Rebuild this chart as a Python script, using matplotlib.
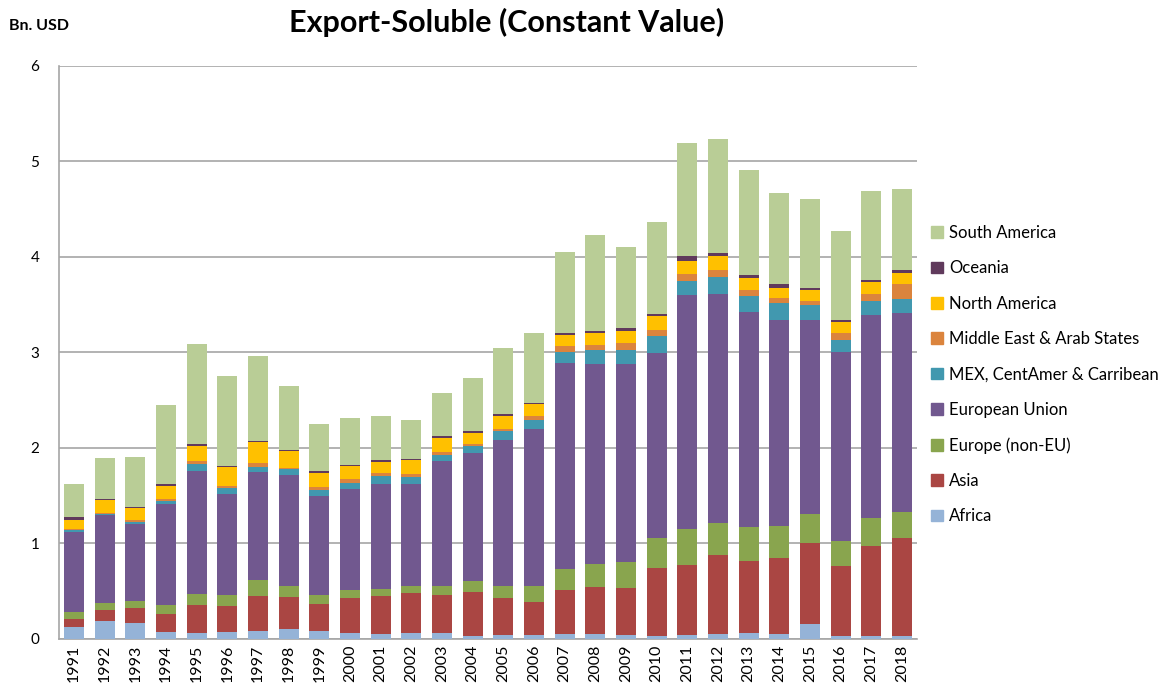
import numpy as np
import matplotlib
matplotlib.use("Agg")
import matplotlib.pyplot as plt
from matplotlib.patches import Patch

plt.rcParams['font.family'] = ['Lato', 'DejaVu Sans']

years = [str(y) for y in range(1991, 2019)]

africa = [0.126, 0.19, 0.168, 0.07, 0.06, 0.07, 0.084, 0.10, 0.08, 0.06, 0.05, 0.06, 0.06, 0.028,
          0.039, 0.039, 0.049, 0.049, 0.039, 0.028, 0.039, 0.049, 0.06, 0.049, 0.157, 0.028, 0.028, 0.028]
asia = [0.08, 0.11, 0.157, 0.196, 0.296, 0.276, 0.366, 0.337, 0.286, 0.373, 0.40, 0.418, 0.401, 0.461,
        0.391, 0.353, 0.461, 0.50, 0.499, 0.715, 0.733, 0.835, 0.754, 0.803, 0.852, 0.736, 0.946, 1.03]
europe_non_eu = [0.081, 0.074, 0.07, 0.087, 0.115, 0.119, 0.168, 0.115, 0.095, 0.077, 0.07, 0.081, 0.091, 0.115,
                 0.129, 0.167, 0.22, 0.233, 0.265, 0.315, 0.384, 0.327, 0.359, 0.331, 0.30, 0.266, 0.29, 0.276]
eu = [0.833, 0.926, 0.805, 1.057, 1.292, 1.053, 1.128, 1.165, 1.036, 1.058, 1.107, 1.068, 1.309, 1.344,
      1.525, 1.634, 2.157, 2.094, 2.073, 1.934, 2.443, 2.402, 2.251, 2.154, 2.028, 1.972, 2.129, 2.08]
mex = [0.02, 0.01, 0.025, 0.032, 0.073, 0.06, 0.052, 0.067, 0.063, 0.066, 0.077, 0.066, 0.066, 0.07,
       0.088, 0.097, 0.122, 0.147, 0.147, 0.181, 0.146, 0.174, 0.168, 0.185, 0.157, 0.129, 0.15, 0.146]
middle_east = [0.01, 0.01, 0.018, 0.021, 0.025, 0.024, 0.042, 0.006, 0.029, 0.038, 0.031, 0.032, 0.028, 0.028,
               0.027, 0.042, 0.056, 0.052, 0.077, 0.063, 0.074, 0.077, 0.066, 0.049, 0.049, 0.073, 0.07, 0.151]
north_america = [0.10, 0.13, 0.126, 0.143, 0.157, 0.193, 0.217, 0.179, 0.153, 0.14, 0.122, 0.146, 0.15, 0.115,
                 0.133, 0.126, 0.115, 0.123, 0.129, 0.14, 0.143, 0.14, 0.119, 0.108, 0.108, 0.115, 0.125, 0.122]
oceania = [0.024, 0.02, 0.011, 0.021, 0.021, 0.017, 0.02, 0.01, 0.014, 0.004, 0.021, 0.018, 0.018, 0.017,
           0.024, 0.017, 0.02, 0.031, 0.028, 0.027, 0.048, 0.035, 0.028, 0.032, 0.028, 0.018, 0.018, 0.031]
south_america = [0.343, 0.42, 0.52, 0.82, 1.054, 0.939, 0.89, 0.674, 0.494, 0.495, 0.454, 0.401, 0.45, 0.552,
                 0.688, 0.723, 0.846, 0.995, 0.848, 0.957, 1.177, 1.194, 1.105, 0.956, 0.928, 0.929, 0.929, 0.842]

series = [
    ("Africa", africa, "#95B3D7"),
    ("Asia", asia, "#AA4643"),
    ("Europe (non-EU)", europe_non_eu, "#89A54E"),
    ("European Union", eu, "#71588F"),
    ("MEX, CentAmer & Carribean", mex, "#4198AF"),
    ("Middle East & Arab States", middle_east, "#DB843D"),
    ("North America", north_america, "#FFC000"),
    ("Oceania", oceania, "#603A5C"),
    ("South America", south_america, "#B9CD96"),
]

fig = plt.figure(figsize=(11.73, 6.93), dpi=100)
ax = fig.add_axes([0.05, 0.078, 0.732, 0.827])

x = np.arange(len(years))
bottom = np.zeros(len(years))
for name, vals, col in series:
    ax.bar(x, vals, 0.65, bottom=bottom, color=col, label=name, zorder=3)
    bottom += np.array(vals)

ax.set_xlim(-0.5, len(years) - 0.5)
ax.set_ylim(0, 6)
ax.set_yticks(range(0, 7))
ax.set_xticks(x)
ax.set_xticklabels(years, rotation=90, fontsize=11.5)
ax.tick_params(axis='y', labelsize=11, length=0, pad=14)
ax.tick_params(axis='x', length=0, pad=4)
ax.yaxis.grid(True, color="#a6a6a6", linewidth=1.2, zorder=0)
for s in ['top', 'right']:
    ax.spines[s].set_visible(False)
ax.spines['left'].set_color("#a6a6a6")
ax.spines['bottom'].set_color("#a6a6a6")
ax.spines['left'].set_linewidth(1.2)
ax.spines['bottom'].set_linewidth(1.2)

fig.text(0.432, 0.967, "Export-Soluble (Constant Value)", ha='center', va='center',
         fontsize=22, fontweight='bold')
fig.text(0.008, 0.962, "Bn. USD", ha='left', va='center', fontsize=11.5, fontweight='bold')

handles = [Patch(color=col, label=name) for name, vals, col in series][::-1]
fig.legend(handles=handles, loc='upper left', bbox_to_anchor=(0.781, 0.697), frameon=False,
           fontsize=12, handlelength=0.7, handleheight=0.7, handletextpad=0.4, labelspacing=1.16)

fig.savefig("out.png", dpi=100)
